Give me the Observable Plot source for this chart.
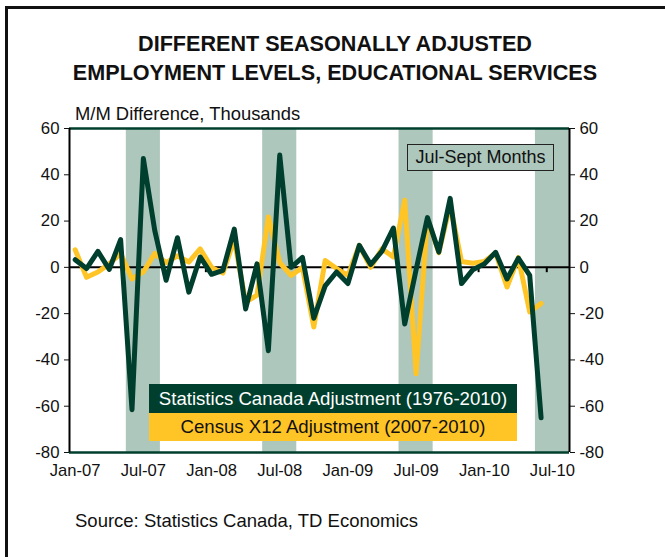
<!DOCTYPE html>
<html>
<head>
<meta charset="utf-8">
<script src="https://cdn.jsdelivr.net/npm/d3@7"></script>
<script src="https://cdn.jsdelivr.net/npm/@observablehq/plot@0.6"></script>
<style>
  html, body { margin: 0; padding: 0; background: #fff; }
  #wrap { position: relative; width: 665px; height: 557px; overflow: hidden; font-family: "Liberation Sans", Arial, sans-serif; color: #111; }
  #frame { position: absolute; left: 5px; top: 6px; width: 700px; height: 600px; border-left: 3px solid #111; border-top: 3px solid #111; }
  .title { position: absolute; left: 0; width: 670px; text-align: center; font-weight: bold; font-size: 21.6px; line-height: 21px; white-space: nowrap; }
  #ylab { position: absolute; left: 75px; top: 105px; font-size: 18.4px; line-height: 18px; }
  #source { position: absolute; left: 75px; top: 512px; font-size: 18.5px; line-height: 18px; }
  #chart { position: absolute; left: 0; top: 100px; }
  .leg { position: absolute; left: 149px; width: 368px; text-align: center; font-size: 18.6px; white-space: nowrap; }
  #leg1 { top: 384px; height: 29px; line-height: 29px; background: #003f2d; color: #fff; }
  #leg2 { top: 413px; height: 28px; line-height: 28px; background: #ffc425; color: #111; }
  #note { position: absolute; left: 407px; top: 144px; width: 145px; height: 25px; line-height: 25px; border: 1px solid #222; background: #adc7bc; text-align: center; font-size: 18px; white-space: nowrap; }
</style>
</head>
<body>
<div id="wrap">
  <div id="frame"></div>
  <div class="title" style="top:33px">DIFFERENT SEASONALLY ADJUSTED</div>
  <div class="title" style="top:62px">EMPLOYMENT LEVELS, EDUCATIONAL SERVICES</div>
  <div id="ylab">M/M Difference, Thousands</div>
  <div id="chart"></div>
  <div id="note">Jul-Sept Months</div>
  <div class="leg" id="leg1">Statistics Canada Adjustment (1976-2010)</div>
  <div class="leg" id="leg2">Census X12 Adjustment (2007-2010)</div>
  <div id="source">Source: Statistics Canada, TD Economics</div>
</div>
<script>
// Category axis: monthly, Jan-07 to Aug-10
const months = [
  "Jan-07","Feb-07","Mar-07","Apr-07","May-07","Jun-07","Jul-07","Aug-07","Sep-07","Oct-07","Nov-07","Dec-07",
  "Jan-08","Feb-08","Mar-08","Apr-08","May-08","Jun-08","Jul-08","Aug-08","Sep-08","Oct-08","Nov-08","Dec-08",
  "Jan-09","Feb-09","Mar-09","Apr-09","May-09","Jun-09","Jul-09","Aug-09","Sep-09","Oct-09","Nov-09","Dec-09",
  "Jan-10","Feb-10","Mar-10","Apr-10","May-10","Jun-10","Jul-10","Aug-10"
];
// Statistics Canada Adjustment (1976-2010), M/M difference, thousands
const statcan = [
  3.3, -0.5, 6.9, -0.9, 12, -61.5, 47, 16, -5.6, 12.8, -10.7, 4.5,
  -3, -1.3, 16.5, -18, 1.5, -36, 48.5, 0, 4.3, -22, -8, -2,
  -7, 9.5, 1.2, 7, 17, -24.5, -1, 21.5, 6.6, 29.8, -7, -1,
  1.5, 6.5, -5, 4, -3.5, -65
];
// Census X12 Adjustment (2007-2010)
const x12 = [
  7.6, -4.3, -2, 1.5, 6, -5, -2, 6, 2, 5, 2.3, 8,
  0, -2.5, 12, -15, -12, 21.8, 2, -3.5, 0, -25.8, 3, -0.5,
  -3.5, 9.5, 0, 8, 4.5, 29, -46, 21, 6.3, 27, 2.5, 1.8,
  2.5, 6.2, -8.5, 4.2, -19.3, -15.6
];
// Shaded Jul-Sept periods (centred on July)
const bandMonths = ["Jul-07", "Jul-08", "Jul-09", "Jul-10"];
const xLabels = ["Jan-07","Jul-07","Jan-08","Jul-08","Jan-09","Jul-09","Jan-10","Jul-10"];
const yTicks = [-80, -60, -40, -20, 0, 20, 40, 60];

const idx = m => months.indexOf(m);
const green = "#003f2d", yellow = "#ffc425", band = "#adc7bc";
const seriesA = statcan.map((v, i) => ({i, v}));
const seriesB = x12.map((v, i) => ({i, v}));
const bands = bandMonths.map(m => ({c: idx(m)}));
const zeroTicks = xLabels.slice(1).map(m => idx(m) - 0.5);

const chart = Plot.plot({
  width: 665,
  height: 400,
  marginLeft: 69,
  marginRight: 96,
  marginTop: 28,
  marginBottom: 48,
  style: {fontFamily: "'Liberation Sans', Arial, sans-serif", color: "#111", background: "transparent"},
  x: {type: "linear", domain: [-0.5, months.length - 0.5]},
  y: {domain: [-80, 60]},
  marks: [
    Plot.rectY(bands, {x1: d => d.c - 1.5, x2: d => d.c + 1.5, y1: -80, y2: 60, fill: band}),
    Plot.ruleY([0], {stroke: "#000", strokeWidth: 2}),
    Plot.ruleX(zeroTicks, {x: d => d, y1: 0, y2: -2.3, stroke: "#000", strokeWidth: 2}),
    Plot.line(seriesB, {x: "i", y: "v", stroke: yellow, strokeWidth: 5}),
    Plot.line(seriesA, {x: "i", y: "v", stroke: green, strokeWidth: 5}),
    Plot.ruleY([60, -80], {stroke: green, strokeWidth: 2.5}),
    Plot.ruleX([-0.5, months.length - 0.5], {stroke: "#000", strokeWidth: 2}),
    Plot.axisY(yTicks, {anchor: "left", tickSize: 5, tickPadding: 5, fontSize: 16.8, label: null, tickFormat: d => d}),
    Plot.axisY(yTicks, {anchor: "right", tickSize: 5, tickPadding: 5, fontSize: 16.8, label: null, tickFormat: d => d}),
    Plot.axisX(xLabels.map(idx), {anchor: "bottom", tickSize: 0, tickPadding: 12, fontSize: 16.6, label: null, tickFormat: i => months[i]})
  ]
});
document.getElementById("chart").appendChild(chart);
</script>
</body>
</html>
